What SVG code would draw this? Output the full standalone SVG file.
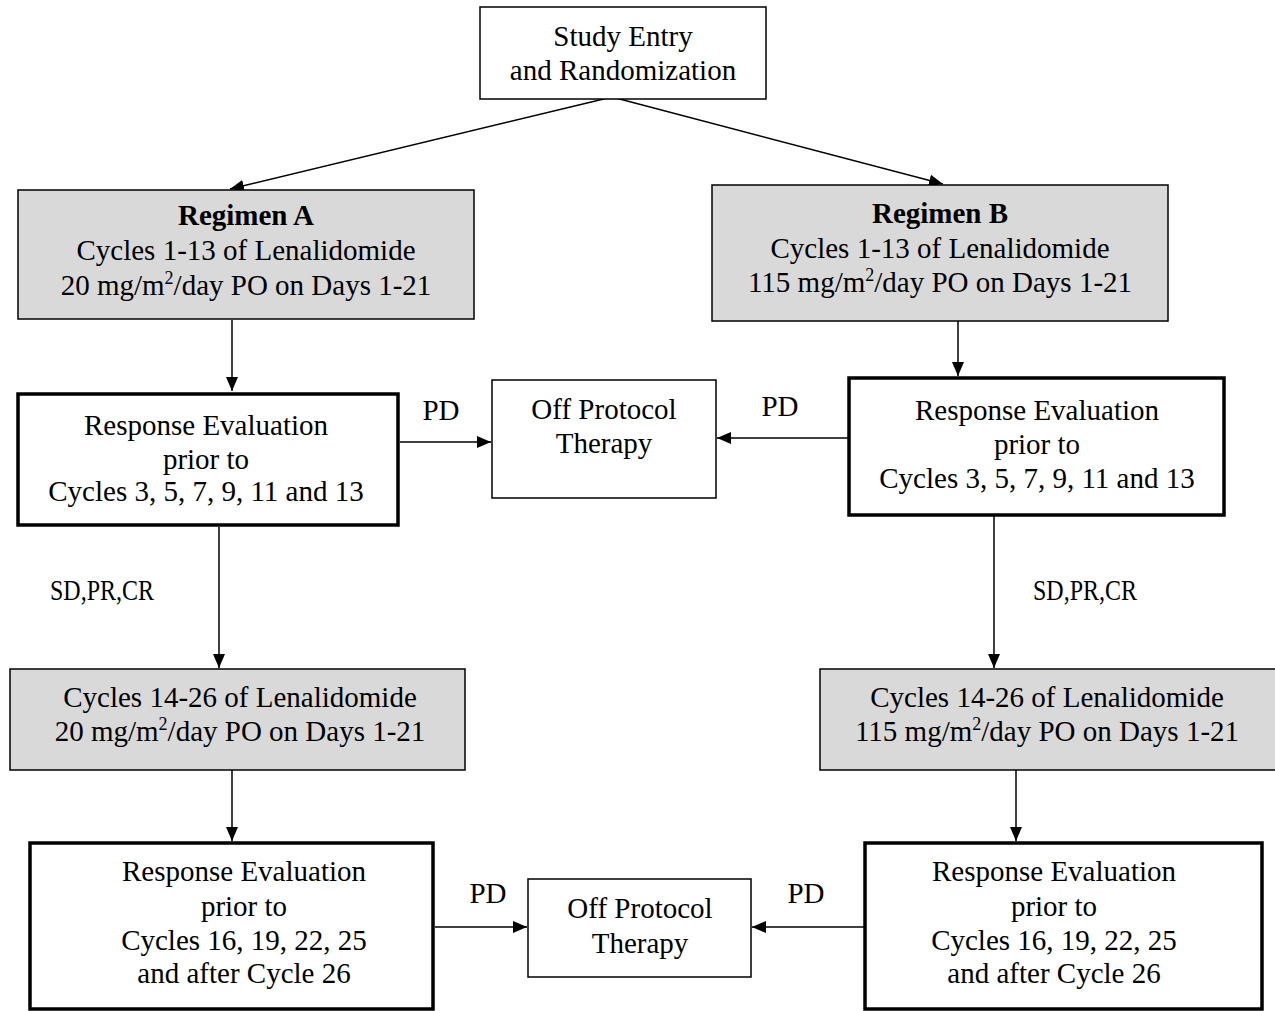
<svg xmlns="http://www.w3.org/2000/svg" width="1275" height="1011" viewBox="0 0 1275 1011">
<defs>
<style>
text{font-family:"Liberation Serif","Times New Roman",serif;font-size:29px;fill:#000;text-anchor:middle}
.b{font-weight:bold}
.sup{font-size:18px}
.box{fill:#fff;stroke:#000;stroke-width:1.5}
.gray{fill:#d9d9d9;stroke:#000;stroke-width:1.5}
.thick{fill:#fff;stroke:#000;stroke-width:3.5}
.c{stroke:#000;stroke-width:1.5;fill:none;marker-end:url(#ah)}
</style>
<marker id="ah" markerUnits="userSpaceOnUse" markerWidth="14" markerHeight="14" viewBox="0 0 14 14" refX="14" refY="7" orient="auto">
<path d="M0,1 L14,7 L0,13 Z" fill="#000"/>
</marker>
</defs>
<rect width="1275" height="1011" fill="#fff"/>

<g id="connectors">
<line class="c" x1="612" y1="97" x2="230" y2="189"/>
<line class="c" x1="612" y1="97" x2="943" y2="184"/>
<line class="c" x1="232" y1="320" x2="232" y2="391"/>
<line class="c" x1="958" y1="321" x2="958" y2="376"/>
<line class="c" x1="400" y1="442" x2="491" y2="442"/>
<line class="c" x1="848" y1="438" x2="717" y2="438"/>
<line class="c" x1="219" y1="527" x2="219" y2="668"/>
<line class="c" x1="994" y1="516" x2="994" y2="668"/>
<line class="c" x1="232" y1="770" x2="232" y2="841"/>
<line class="c" x1="1016" y1="770" x2="1016" y2="841"/>
<line class="c" x1="435" y1="927" x2="527" y2="927"/>
<line class="c" x1="865" y1="927" x2="752" y2="927"/>
<text x="441" y="420">PD</text>
<text x="780" y="416">PD</text>
<text x="102" y="600" textLength="104" lengthAdjust="spacingAndGlyphs">SD,PR,CR</text>
<text x="1085" y="600" textLength="104" lengthAdjust="spacingAndGlyphs">SD,PR,CR</text>
<text x="488" y="903">PD</text>
<text x="806" y="903">PD</text>
</g>

<g id="study-entry">
<rect class="box" x="480" y="7" width="286" height="92"/>
<text x="623" y="46">Study Entry</text>
<text x="623" y="80">and Randomization</text>
</g>

<g id="regimen-a">
<rect class="gray" x="18" y="190" width="456" height="129"/>
<text x="246" y="225" class="b">Regimen A</text>
<text x="246" y="260">Cycles 1-13 of Lenalidomide</text>
<text x="246" y="295">20 mg/m<tspan class="sup" dy="-11">2</tspan><tspan dy="11">/day PO on Days 1-21</tspan></text>
</g>

<g id="regimen-b">
<rect class="gray" x="712" y="185" width="456" height="136"/>
<text x="940" y="223" class="b">Regimen B</text>
<text x="940" y="258">Cycles 1-13 of Lenalidomide</text>
<text x="940" y="292">115 mg/m<tspan class="sup" dy="-11">2</tspan><tspan dy="11">/day PO on Days 1-21</tspan></text>
</g>

<g id="response-a1">
<rect class="thick" x="18" y="394" width="380" height="131"/>
<text x="206" y="435">Response Evaluation</text>
<text x="206" y="469">prior to</text>
<text x="206" y="501">Cycles 3, 5, 7, 9, 11 and 13</text>
</g>

<g id="off-protocol-1">
<rect class="box" x="492" y="380" width="224" height="118"/>
<text x="604" y="419">Off Protocol</text>
<text x="604" y="453">Therapy</text>
</g>

<g id="response-b1">
<rect class="thick" x="849" y="378" width="375" height="137"/>
<text x="1037" y="420">Response Evaluation</text>
<text x="1037" y="454">prior to</text>
<text x="1037" y="488">Cycles 3, 5, 7, 9, 11 and 13</text>
</g>

<g id="cycles-a2">
<rect class="gray" x="10" y="669" width="455" height="101"/>
<text x="240" y="707">Cycles 14-26 of Lenalidomide</text>
<text x="240" y="741">20 mg/m<tspan class="sup" dy="-11">2</tspan><tspan dy="11">/day PO on Days 1-21</tspan></text>
</g>

<g id="cycles-b2">
<rect class="gray" x="820" y="669" width="460" height="101"/>
<text x="1047" y="707">Cycles 14-26 of Lenalidomide</text>
<text x="1047" y="741">115 mg/m<tspan class="sup" dy="-11">2</tspan><tspan dy="11">/day PO on Days 1-21</tspan></text>
</g>

<g id="response-a2">
<rect class="thick" x="30" y="843" width="403" height="166"/>
<text x="244" y="881">Response Evaluation</text>
<text x="244" y="916">prior to</text>
<text x="244" y="950">Cycles 16, 19, 22, 25</text>
<text x="244" y="983">and after Cycle 26</text>
</g>

<g id="off-protocol-2">
<rect class="box" x="528" y="879" width="223" height="98"/>
<text x="640" y="918">Off Protocol</text>
<text x="640" y="953">Therapy</text>
</g>

<g id="response-b2">
<rect class="thick" x="865" y="843" width="397" height="166"/>
<text x="1054" y="881">Response Evaluation</text>
<text x="1054" y="916">prior to</text>
<text x="1054" y="950">Cycles 16, 19, 22, 25</text>
<text x="1054" y="983">and after Cycle 26</text>
</g>
</svg>
